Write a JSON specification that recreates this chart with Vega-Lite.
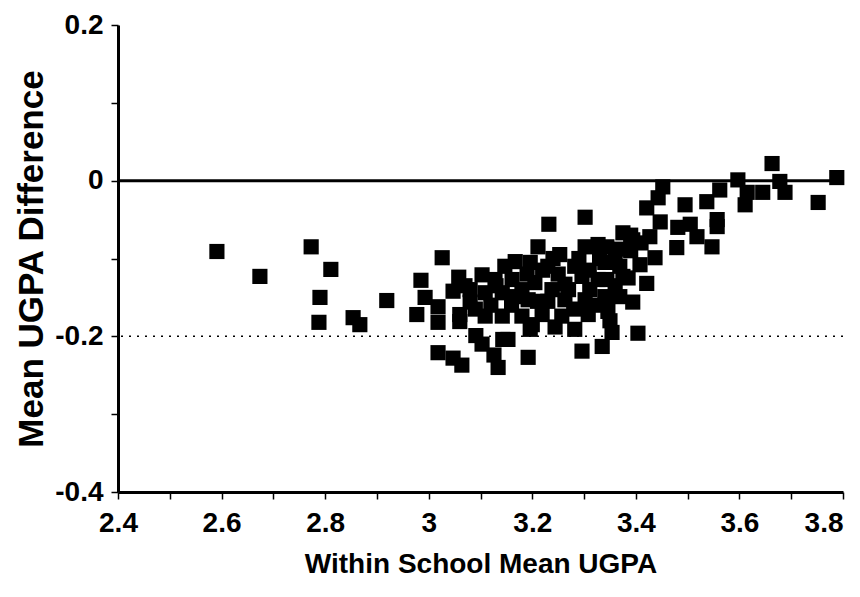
{
  "$schema": "https://vega.github.io/schema/vega-lite/v6.json",
  "width": 725,
  "height": 467,
  "autosize": "none",
  "padding": {"left": 118, "top": 25, "right": 17, "bottom": 105},
  "background": "white",
  "config": {"view": {"stroke": null}},
  "datasets": {
    "points": [
      {"x":2.591,"y":-0.091},{"x":2.674,"y":-0.123},{"x":2.773,"y":-0.085},{"x":2.811,"y":-0.114},{"x":2.790,"y":-0.150},{"x":2.788,"y":-0.182},{"x":2.854,"y":-0.176},{"x":2.867,"y":-0.185},{"x":2.919,"y":-0.154},
      {"x":3.026,"y":-0.099},{"x":2.985,"y":-0.128},{"x":3.058,"y":-0.124},{"x":3.103,"y":-0.121},{"x":3.147,"y":-0.110},{"x":2.993,"y":-0.150},{"x":3.047,"y":-0.142},{"x":2.977,"y":-0.172},{"x":3.018,"y":-0.162},{"x":3.018,"y":-0.182},{"x":3.060,"y":-0.172},{"x":3.080,"y":-0.156},{"x":3.109,"y":-0.144},{"x":3.109,"y":-0.174},{"x":3.142,"y":-0.144},{"x":3.142,"y":-0.174},{"x":3.091,"y":-0.199},{"x":3.103,"y":-0.210},{"x":3.143,"y":-0.204},{"x":3.018,"y":-0.221},{"x":3.047,"y":-0.228},{"x":3.064,"y":-0.237},{"x":3.126,"y":-0.224},{"x":3.134,"y":-0.240},{"x":3.060,"y":-0.181},
      {"x":3.232,"y":-0.056},{"x":3.302,"y":-0.047},{"x":3.211,"y":-0.085},{"x":3.302,"y":-0.085},{"x":3.327,"y":-0.082},{"x":3.167,"y":-0.104},{"x":3.196,"y":-0.105},{"x":3.230,"y":-0.110},{"x":3.282,"y":-0.110},{"x":3.340,"y":-0.105},{"x":3.161,"y":-0.127},{"x":3.205,"y":-0.131},{"x":3.238,"y":-0.140},{"x":3.296,"y":-0.123},{"x":3.327,"y":-0.127},{"x":3.167,"y":-0.149},{"x":3.192,"y":-0.153},{"x":3.230,"y":-0.155},{"x":3.263,"y":-0.153},{"x":3.302,"y":-0.153},{"x":3.340,"y":-0.149},{"x":3.180,"y":-0.174},{"x":3.219,"y":-0.172},{"x":3.257,"y":-0.174},{"x":3.308,"y":-0.172},{"x":3.346,"y":-0.168},{"x":3.244,"y":-0.188},{"x":3.153,"y":-0.204},{"x":3.296,"y":-0.219},{"x":3.335,"y":-0.213},{"x":3.192,"y":-0.227},{"x":3.354,"y":-0.195},
      {"x":3.452,"y":-0.008},{"x":3.443,"y":-0.022},{"x":3.421,"y":-0.035},{"x":3.495,"y":-0.031},{"x":3.537,"y":-0.027},{"x":3.447,"y":-0.053},{"x":3.427,"y":-0.072},{"x":3.481,"y":-0.060},{"x":3.505,"y":-0.056},{"x":3.518,"y":-0.072},{"x":3.479,"y":-0.086},{"x":3.375,"y":-0.067},{"x":3.394,"y":-0.076},{"x":3.344,"y":-0.085},{"x":3.369,"y":-0.088},{"x":3.408,"y":-0.108},{"x":3.437,"y":-0.099},{"x":3.344,"y":-0.105},{"x":3.369,"y":-0.110},{"x":3.344,"y":-0.127},{"x":3.375,"y":-0.123},{"x":3.421,"y":-0.132},{"x":3.369,"y":-0.149},{"x":3.394,"y":-0.156},{"x":3.344,"y":-0.150},{"x":3.404,"y":-0.196},
      {"x":3.663,"y":0.022},{"x":3.597,"y":0.001},{"x":3.678,"y":-0.001},{"x":3.788,"y":0.004},{"x":3.562,"y":-0.012},{"x":3.611,"y":-0.031},{"x":3.615,"y":-0.015},{"x":3.645,"y":-0.015},{"x":3.688,"y":-0.015},{"x":3.752,"y":-0.028},{"x":3.557,"y":-0.050},{"x":3.557,"y":-0.059},{"x":3.547,"y":-0.085},
      {"x":3.263,"y":-0.133},{"x":3.311,"y":-0.140},{"x":3.128,"y":-0.127},{"x":3.080,"y":-0.140},{"x":3.196,"y":-0.191},{"x":3.282,"y":-0.191},{"x":3.253,"y":-0.095},
      {"x":3.07,"y":-0.135},{"x":3.09,"y":-0.165},{"x":3.12,"y":-0.16},{"x":3.13,"y":-0.135},{"x":3.16,"y":-0.16},{"x":3.18,"y":-0.14},{"x":3.19,"y":-0.12},{"x":3.21,"y":-0.155},{"x":3.22,"y":-0.115},{"x":3.25,"y":-0.12},{"x":3.27,"y":-0.14},{"x":3.28,"y":-0.165},{"x":3.29,"y":-0.10},{"x":3.31,"y":-0.115},{"x":3.32,"y":-0.16},{"x":3.33,"y":-0.10},{"x":3.36,"y":-0.095},{"x":3.39,"y":-0.09},{"x":3.385,"y":-0.125},{"x":3.36,"y":-0.135},{"x":3.24,"y":-0.10},{"x":3.20,"y":-0.185},{"x":3.35,"y":-0.18},{"x":3.41,"y":-0.08},{"x":3.39,"y":-0.07}
    ],
    "refs": [
      {"y": 0, "kind": "solid"},
      {"y": -0.2, "kind": "dotted"}
    ]
  },
  "layer": [
    {
      "data": {"name": "refs"},
      "transform": [{"filter": "datum.kind == 'dotted'"}],
      "mark": {"type": "rule", "color": "black", "strokeWidth": 1.5, "strokeDash": [2, 6]},
      "encoding": {"y": {"field": "y", "type": "quantitative", "scale": {"domain": [-0.4, 0.2]}}}
    },
    {
      "data": {"name": "refs"},
      "transform": [{"filter": "datum.kind == 'solid'"}],
      "mark": {"type": "rule", "color": "black", "strokeWidth": 3},
      "encoding": {"y": {"field": "y", "type": "quantitative"}}
    },
    {
      "data": {"name": "points"},
      "mark": {"type": "point", "shape": "square", "filled": true, "color": "black", "opacity": 1, "size": 230},
      "encoding": {
        "x": {
          "field": "x", "type": "quantitative",
          "scale": {"domain": [2.4, 3.8], "nice": false, "zero": false},
          "axis": {
            "title": "Within School Mean UGPA",
            "values": [2.4, 2.5, 2.6, 2.7, 2.8, 2.9, 3, 3.1, 3.2, 3.3, 3.4, 3.5, 3.6, 3.7, 3.8],
            "labelExpr": "round(datum.value * 10) % 2 == 0 ? '' + datum.value : ''",
            "labelAlign": {"condition": {"test": "datum.value >= 3.79", "value": "right"}, "value": "center"},
            "grid": false,
            "domainColor": "black", "domainWidth": 3,
            "tickColor": "black", "tickWidth": 1.5, "tickSize": 7,
            "labelFont": "Liberation Sans",
            "labelFontWeight": "bold", "labelFontSize": 28, "labelColor": "black",
            "labelPadding": 10, "labelFlush": false, "labelOverlap": false,
            "titleFont": "Liberation Sans",
            "titleFontWeight": "bold", "titleFontSize": 28, "titleColor": "black",
            "titlePadding": 13
          }
        },
        "y": {
          "field": "y", "type": "quantitative",
          "scale": {"domain": [-0.4, 0.2], "nice": false, "zero": false},
          "axis": {
            "title": "Mean UGPA Difference",
            "values": [-0.4, -0.3, -0.2, -0.1, 0, 0.1, 0.2],
            "labelExpr": "round(datum.value * 10) % 2 == 0 ? '' + datum.value : ''",
            "grid": false,
            "domainColor": "black", "domainWidth": 3,
            "tickColor": "black", "tickWidth": 1.5, "tickSize": 7,
            "labelFont": "Liberation Sans",
            "labelFontWeight": "bold", "labelFontSize": 28, "labelColor": "black",
            "labelPadding": 8, "labelFlush": false, "labelOverlap": false,
            "titleFont": "Liberation Sans",
            "titleFontWeight": "bold", "titleFontSize": 35, "titleColor": "black",
            "titlePadding": 5
          }
        }
      }
    }
  ]
}
